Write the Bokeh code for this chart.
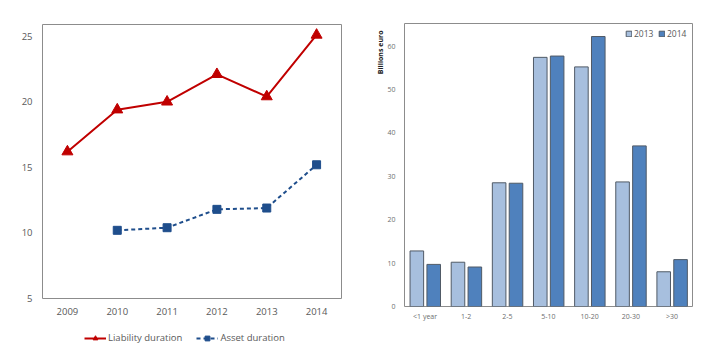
from bokeh.plotting import figure
from bokeh.layouts import row, column
from bokeh.models import (ColumnDataSource, Range1d, FixedTicker, Legend, LegendItem,
                          Title, FactorRange)
from bokeh.transform import dodge
from bokeh.embed import file_html
from bokeh.resources import INLINE

# ---- data: left chart ----
years = [2009, 2010, 2011, 2012, 2013, 2014]
liability = [16.2, 19.4, 20.0, 22.1, 20.4, 25.1]
asset_years = [2010, 2011, 2012, 2013, 2014]
asset = [10.2, 10.4, 11.8, 11.9, 15.2]

# ---- data: right chart ----
buckets = ["<1 year", "1-2", "2-5", "5-10", "10-20", "20-30", ">30"]
v2013 = [12.8, 10.2, 28.5, 57.4, 55.2, 28.7, 8.0]
v2014 = [9.7, 9.1, 28.4, 57.7, 62.2, 37.0, 10.8]

FONT = "Open Sans"
GRAY = "#595959"
RED = "#C00000"
BLUE = "#1F4E8C"


def style_axes(p, size, color):
    for ax in (p.xaxis[0], p.yaxis[0]):
        ax.axis_line_color = None
        ax.major_tick_line_color = None
        ax.minor_tick_line_color = None
        ax.major_tick_out = 0
        ax.major_tick_in = 0
        ax.minor_tick_out = 0
        ax.minor_tick_in = 0
        ax.major_label_text_font = FONT
        ax.major_label_text_font_size = size
        ax.major_label_text_color = color


# ---------------- left figure ----------------
p1 = figure(width=360, height=320, output_backend="svg", toolbar_location=None,
            x_range=Range1d(2008.5, 2014.5), y_range=Range1d(5, 25.9),
            min_border_left=42, min_border_right=19, min_border_top=24, min_border_bottom=22)
p1.grid.visible = False
p1.outline_line_color = "#8C8C8C"
p1.outline_line_width = 1
style_axes(p1, "9.5px", GRAY)
p1.xaxis.ticker = FixedTicker(ticks=years)
p1.yaxis.ticker = FixedTicker(ticks=[5, 10, 15, 20, 25])
p1.xaxis.major_label_standoff = 9
p1.yaxis.major_label_standoff = 10

line_liab = dict(line_color=RED, line_width=2)
mark_liab = dict(marker="triangle", size=11, fill_color=RED, line_color=RED)
line_asset = dict(line_color=BLUE, line_width=2, line_dash="4 3")
mark_asset = dict(marker="square", size=8, fill_color=BLUE, line_color=BLUE)

p1.line(years, liability, **line_liab)
p1.scatter(years, liability, **mark_liab)
p1.line(asset_years, asset, **line_asset)
p1.scatter(asset_years, asset, **mark_asset)

# legend strip under the left chart (same series, drawn outside its visible range)
pleg = figure(width=360, height=27, output_backend="svg", toolbar_location=None,
              x_range=Range1d(0, 1), y_range=Range1d(0, 1),
              x_axis_location=None, y_axis_location=None, min_border=0)
pleg.grid.visible = False
pleg.outline_line_color = None
g1 = pleg.line(years, liability, **line_liab)
g2 = pleg.scatter(years, liability, **mark_liab)
g3 = pleg.line(asset_years, asset, **line_asset)
g4 = pleg.scatter(asset_years, asset, **mark_asset)
leg1 = Legend(items=[LegendItem(label="Liability duration", renderers=[g1, g2]),
                     LegendItem(label="Asset duration", renderers=[g3, g4])],
              orientation="horizontal", location=(42, 3),
              label_text_font=FONT, label_text_font_size="9.5px", label_text_color=GRAY,
              border_line_color=None, background_fill_alpha=0,
              glyph_width=22, glyph_height=12, spacing=14, label_standoff=2,
              padding=4, margin=0)
pleg.add_layout(leg1, "center")

# ---------------- right figure ----------------
src = ColumnDataSource(data=dict(b=buckets, v2013=v2013, v2014=v2014))
p2 = figure(width=352, height=347, output_backend="svg", toolbar_location=None,
            x_range=FactorRange(*buckets), y_range=Range1d(0, 65.2),
            min_border_left=44, min_border_right=20, min_border_top=23, min_border_bottom=41)
p2.grid.visible = False
p2.outline_line_color = "#8C8C8C"
p2.outline_line_width = 1
style_axes(p2, "7px", "#6E6E6E")
p2.yaxis.ticker = FixedTicker(ticks=[0, 10, 20, 30, 40, 50, 60])
p2.xaxis.major_label_standoff = 5
p2.yaxis.major_label_standoff = 9

r13 = p2.vbar(x=dodge("b", -0.2, range=p2.x_range), top="v2013", width=0.33, source=src,
              fill_color="#A7BFDE", line_color="#505A66", line_width=1)
r14 = p2.vbar(x=dodge("b", 0.21, range=p2.x_range), top="v2014", width=0.33, source=src,
              fill_color="#4F81BD", line_color="#505A66", line_width=1)

leg2 = Legend(items=[LegendItem(label="2013", renderers=[r13]),
                     LegendItem(label="2014", renderers=[r14])],
              orientation="horizontal", location="top_right",
              label_text_font=FONT, label_text_font_size="8.5px", label_text_color=GRAY,
              border_line_color=None, background_fill_alpha=0,
              glyph_width=7, glyph_height=7, spacing=4, label_standoff=2,
              padding=2, margin=5)
p2.add_layout(leg2, "center")

ytitle = Title(text="Billions euro", align="right", offset=7,
               text_font=FONT, text_font_size="7px", text_font_style="bold",
               text_color="#222222", standoff=0)
p2.add_layout(ytitle, "left")

left_col = column(p1, pleg, sizing_mode="fixed", width=360, height=347)
layout = row(left_col, p2, sizing_mode="fixed", width=712, height=347)
open("out.html", "w").write(file_html(layout, INLINE))
